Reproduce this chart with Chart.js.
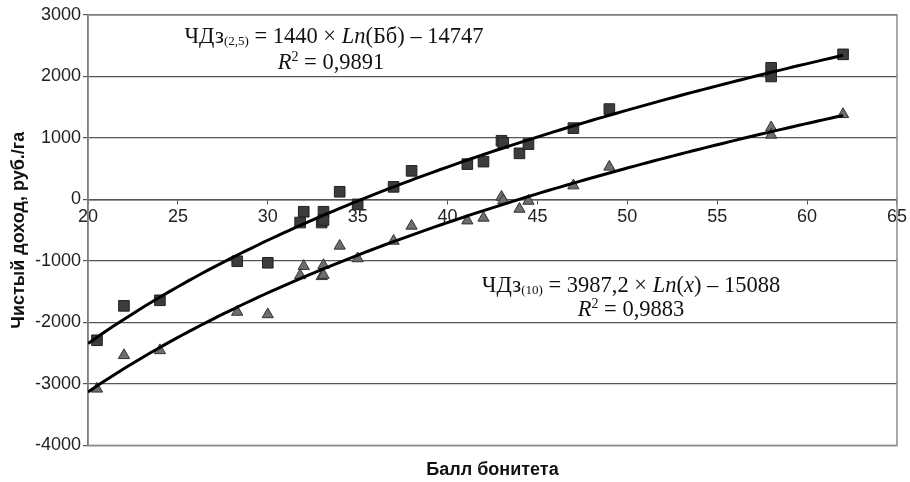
<!DOCTYPE html>
<html>
<head>
<meta charset="utf-8">
<script src="https://cdn.jsdelivr.net/npm/chart.js@4/dist/chart.umd.min.js"></script>
<style>
  html, body { margin: 0; padding: 0; background: #fff; }
  #wrap { width: 910px; height: 482px; }
</style>
</head>
<body>
<div id="wrap"><canvas id="myChart" width="910" height="482"></canvas></div>
<script>
// ЧДз(2,5) — squares
const bonitet25 = [20.5, 22, 24, 28.3, 30, 32, 31.8, 33.1, 33, 33.1, 34, 35, 37, 38, 41.1, 42, 43, 43.1, 44, 44.5, 47, 49, 58, 58, 62];
const income25 = [-2290, -1730, -1640, -1005, -1030, -200, -375, -200, -375, -335, 125, -80, 205, 465, 575, 615, 955, 920, 750, 900, 1160, 1470, 2140, 2000, 2360];
// ЧДз(10) — triangles
const bonitet10 = [20.5, 22, 24, 28.3, 30, 31.8, 32, 33, 33.1, 33.1, 34, 35, 37, 38, 41.1, 42, 43, 43.1, 44, 44.5, 47, 49, 58, 58, 62];
const income10 = [-3080, -2535, -2455, -1830, -1870, -1235, -1085, -1250, -1070, -1230, -755, -960, -675, -430, -345, -300, 40, -15, -155, -25, 225, 530, 1170, 1050, 1385];

const xTicks = [20, 25, 30, 35, 40, 45, 50, 55, 60, 65];
const yTicks = [-4000, -3000, -2000, -1000, 0, 1000, 2000, 3000];

function toPoints(xs, ys) {
    return xs.map((x, i) => ({x: x, y: ys[i]}));
}

// least squares fit y = a*ln(x) + b, like the excel trendline
function logFit(xs, ys) {
    const n = xs.length;
    let sx = 0, sy = 0, sxx = 0, sxy = 0;
    for (let i = 0; i < n; i++) {
        const lx = Math.log(xs[i]);
        sx += lx; sy += ys[i]; sxx += lx * lx; sxy += lx * ys[i];
    }
    const a = (n * sxy - sx * sy) / (n * sxx - sx * sx);
    const b = (sy - a * sx) / n;
    return {a, b};
}

function trend(xs, ys) {
    const f = logFit(xs, ys);
    const lo = Math.min(...xs) - 0.5, hi = Math.max(...xs);
    const pts = [];
    for (let i = 0; i <= 60; i++) {
        const x = lo + (hi - lo) * i / 60;
        pts.push({x: x, y: f.a * Math.log(x) + f.b});
    }
    return pts;
}

function drawRich(ctx, parts, cx, baseline) {
    let w = 0;
    parts.forEach(p => { ctx.font = p.font; p.w = ctx.measureText(p.t).width; w += p.w; });
    let x = cx - w / 2;
    parts.forEach(p => {
        ctx.font = p.font;
        ctx.fillText(p.t, x, baseline + (p.dy || 0));
        x += p.w;
    });
}

const sans = '"Liberation Sans", Arial, sans-serif';
const serif = '"Liberation Serif", "Times New Roman", serif';
const big = '22.5px ' + serif;
const bigI = 'italic 22.5px ' + serif;
const small = '13px ' + serif;
const sup = '14px ' + serif;

const decor = {
    id: 'decor',
    beforeDatasetsDraw(chart) {
        const {ctx, chartArea: a} = chart;
        ctx.save();
        ctx.strokeStyle = '#8c8c8c';
        ctx.lineWidth = 1.5;
        ctx.strokeRect(a.left, a.top, a.right - a.left, a.bottom - a.top);
        ctx.restore();
    },
    afterDraw(chart) {
        const ctx = chart.ctx;
        ctx.save();
        ctx.fillStyle = '#111';
        ctx.textAlign = 'left';
        ctx.textBaseline = 'alphabetic';
        drawRich(ctx, [
            {t: 'ЧДз', font: big},
            {t: '(2,5)', font: small, dy: 2},
            {t: ' = 1440 × ', font: big},
            {t: 'Ln', font: bigI},
            {t: '(Бб) – 14747', font: big}
        ], 334, 43);
        drawRich(ctx, [
            {t: 'R', font: bigI},
            {t: '2', font: sup, dy: -8},
            {t: ' = 0,9891', font: big}
        ], 331, 69);
        drawRich(ctx, [
            {t: 'ЧДз', font: big},
            {t: '(10)', font: small, dy: 2},
            {t: ' = 3987,2 × ', font: big},
            {t: 'Ln', font: bigI},
            {t: '(', font: big},
            {t: 'x', font: bigI},
            {t: ') – 15088', font: big}
        ], 631, 292);
        drawRich(ctx, [
            {t: 'R', font: bigI},
            {t: '2', font: sup, dy: -8},
            {t: ' = 0,9883', font: big}
        ], 631, 316);
        ctx.restore();
    }
};

const ctx = document.getElementById('myChart').getContext('2d');
const myChart = new Chart(ctx, {
    type: 'scatter',
    data: {
        datasets: [{
            type: 'line',
            data: trend(bonitet25, income25),
            borderColor: '#000',
            borderWidth: 3,
            pointRadius: 0,
            tension: 0.3,
            fill: false
        }, {
            type: 'line',
            data: trend(bonitet10, income10),
            borderColor: '#000',
            borderWidth: 3,
            pointRadius: 0,
            tension: 0.3,
            fill: false
        }, {
            label: 'ЧДз(2,5)',
            data: toPoints(bonitet25, income25),
            pointStyle: 'rect',
            pointRadius: 7.5,
            backgroundColor: '#3c3c3c',
            borderColor: '#222',
            borderWidth: 1
        }, {
            label: 'ЧДз(10)',
            data: toPoints(bonitet10, income10),
            pointStyle: 'triangle',
            pointRadius: 6.5,
            backgroundColor: '#6e6e6e',
            borderColor: '#333',
            borderWidth: 1
        }]
    },
    options: {
        responsive: false,
        animation: false,
        layout: {padding: {left: 4, right: 7, top: 15, bottom: 0}},
        plugins: {
            legend: {display: false},
            tooltip: {enabled: false},
            title: {
                display: true,
                position: 'bottom',
                fullSize: false,
                text: 'Балл бонитета',
                color: '#111',
                font: {family: sans, size: 18, weight: 'bold'},
                padding: {top: 14, bottom: 1}
            }
        },
        scales: {
            x: {
                type: 'linear',
                position: {y: 0},
                min: 20,
                max: 65,
                afterBuildTicks: s => { s.ticks = xTicks.map(v => ({value: v})); },
                ticks: {
                    color: '#222',
                    font: {family: sans, size: 18},
                    padding: 3,
                    callback: v => String(v)
                },
                grid: {drawOnChartArea: false, drawTicks: true, tickLength: 4, color: '#555'},
                border: {color: '#555', width: 1.5}
            },
            y: {
                min: -4000,
                max: 3000,
                afterBuildTicks: s => { s.ticks = yTicks.map(v => ({value: v})); },
                afterFit: s => { s.width = 84; },
                ticks: {
                    color: '#222',
                    font: {family: sans, size: 18},
                    padding: 2,
                    callback: v => String(v)
                },
                grid: {color: '#555', lineWidth: 1.2, tickLength: 5},
                border: {color: '#555', width: 1.5},
                title: {
                    display: true,
                    text: 'Чистый доход, руб./га',
                    color: '#111',
                    font: {family: sans, size: 18, weight: 'bold'},
                    padding: {top: 4, bottom: 0}
                }
            }
        }
    },
    plugins: [decor]
});
</script>
</body>
</html>
